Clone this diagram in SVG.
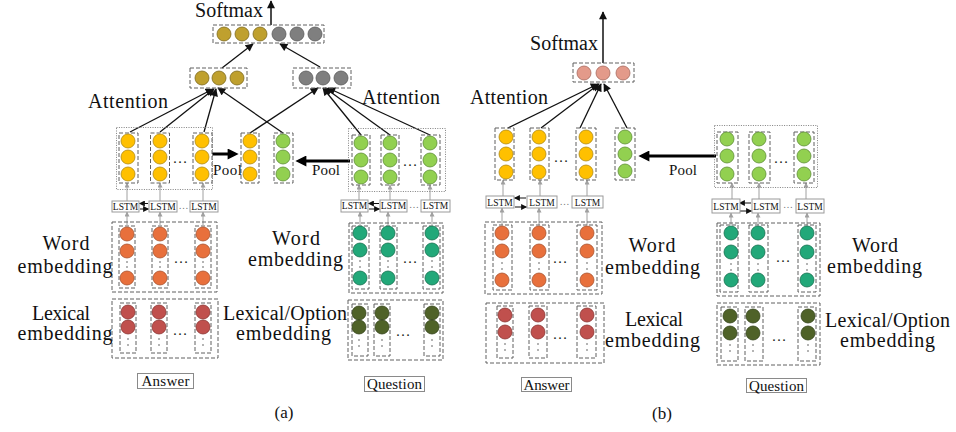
<svg xmlns="http://www.w3.org/2000/svg" width="956" height="432" viewBox="0 0 956 432">
  <defs>
    <style>
      text { font-family: "Liberation Serif", "DejaVu Serif", serif; fill: #111; }
      .lbl { font-size: 20px; text-anchor: middle; }
      .lbl-l { font-size: 20px; }
      .pool-t { font-size: 15px; }
      .tag { font-size: 15px; text-anchor: middle; }
      .cap { font-size: 17px; text-anchor: middle; }
      .lstm-t { font-size: 9.5px; text-anchor: middle; }
      .ell { font-size: 15px; text-anchor: middle; fill: #222; }
      .ell-s { font-size: 10px; text-anchor: middle; fill: #777; }
      .dash { fill: none; stroke: #606060; stroke-width: 1; stroke-dasharray: 4 2; }
      .dots { fill: none; stroke: #808080; stroke-width: 1; stroke-dasharray: 1 1.4; }
      .box { fill: #fff; stroke: #9a9a9a; stroke-width: 1; }
      .tagbox { fill: #fff; stroke: #8a8a8a; stroke-width: 1; }
      .yel { fill: #FFC000; stroke: #B08A14; stroke-width: 0.8; }
      .grn { fill: #92D050; stroke: #5E8E36; stroke-width: 0.8; }
      .org { fill: #E8703C; stroke: #A8532E; stroke-width: 0.8; }
      .teal { fill: #22A879; stroke: #17704F; stroke-width: 0.8; }
      .red { fill: #C0504D; stroke: #8A3532; stroke-width: 0.8; }
      .olv { fill: #4F6228; stroke: #34421A; stroke-width: 0.8; }
      .gold { fill: #BFA02E; stroke: #7E6A1E; stroke-width: 0.8; }
      .gry { fill: #7F7F7F; stroke: #5A5A5A; stroke-width: 0.8; }
      .pnk { fill: #E39A8A; stroke: #A86A5E; stroke-width: 0.8; }
      .vd { fill: #555; }
      .att { stroke: #111; stroke-width: 1.3; fill: none; marker-end: url(#ah); }
      .out { stroke: #111; stroke-width: 1.5; fill: none; marker-end: url(#ah); }
      .pool { stroke: #000; stroke-width: 3; fill: none; marker-end: url(#ahBig); }
      .feed { stroke: #a0a0a0; stroke-width: 1; fill: none; marker-end: url(#ahGray); }
      .bi { stroke: #111; stroke-width: 1; fill: none; marker-end: url(#ahSm); }
    </style>
    <marker id="ah" viewBox="0 0 10 10" refX="9" refY="5" markerWidth="9" markerHeight="8" markerUnits="userSpaceOnUse" orient="auto">
      <path d="M0,0 L10,5 L0,10 z" fill="#111"/>
    </marker>
    <marker id="ahBig" viewBox="0 0 10 10" refX="4" refY="5" markerWidth="14" markerHeight="11" markerUnits="userSpaceOnUse" orient="auto">
      <path d="M0,0 L10,5 L0,10 z" fill="#000"/>
    </marker>
    <marker id="ahGray" viewBox="0 0 10 10" refX="9" refY="5" markerWidth="5" markerHeight="5" markerUnits="userSpaceOnUse" orient="auto">
      <path d="M0,0 L10,5 L0,10 z" fill="#a0a0a0"/>
    </marker>
    <marker id="ahSm" viewBox="0 0 10 10" refX="9" refY="5" markerWidth="7" markerHeight="6" markerUnits="userSpaceOnUse" orient="auto">
      <path d="M0,0 L10,5 L0,10 z" fill="#111"/>
    </marker>
  </defs>

  <!-- ===================== connectors ===================== -->
  <g id="connectors">
    <!-- (a) output -->
    <line class="out" x1="271" y1="25" x2="271" y2="1"/>
    <line class="att" x1="222" y1="68" x2="253" y2="44"/>
    <line class="att" x1="320" y1="67" x2="280" y2="44"/>
    <!-- (a) attention over answer + pooled question -->
    <line class="att" x1="130" y1="132" x2="213" y2="89"/>
    <line class="att" x1="160" y1="132" x2="214" y2="89"/>
    <line class="att" x1="204" y1="132" x2="216" y2="89"/>
    <line class="att" x1="283" y1="133" x2="218" y2="88"/>
    <!-- (a) attention over question + pooled answer -->
    <line class="att" x1="250" y1="133" x2="318" y2="88"/>
    <line class="att" x1="361" y1="135" x2="323" y2="88"/>
    <line class="att" x1="390" y1="135" x2="325" y2="88"/>
    <line class="att" x1="430" y1="135" x2="328" y2="88"/>
    <!-- (a) pooling -->
    <line class="pool" x1="212" y1="154" x2="232" y2="154"/>
    <line class="pool" x1="350" y1="161" x2="302" y2="161"/>
    <!-- (a) answer feeds -->
    <line class="feed" x1="127" y1="225" x2="127" y2="212"/>
    <line class="feed" x1="160" y1="225" x2="160" y2="212"/>
    <line class="feed" x1="203" y1="225" x2="203" y2="212"/>
    <line class="feed" x1="127" y1="201" x2="127" y2="183"/>
    <line class="feed" x1="160" y1="201" x2="160" y2="183"/>
    <line class="feed" x1="203" y1="201" x2="203" y2="183"/>
    <line class="bi" x1="148" y1="203.5" x2="139.5" y2="203.5"/>
    <line class="bi" x1="140" y1="209" x2="148.5" y2="209"/>
    <!-- (a) question feeds -->
    <line class="feed" x1="360" y1="225" x2="360" y2="212"/>
    <line class="feed" x1="388" y1="225" x2="388" y2="212"/>
    <line class="feed" x1="432" y1="225" x2="432" y2="212"/>
    <line class="feed" x1="359" y1="200" x2="359" y2="185"/>
    <line class="feed" x1="390" y1="200" x2="390" y2="185"/>
    <line class="feed" x1="430" y1="200" x2="430" y2="185"/>
    <line class="bi" x1="379" y1="203.5" x2="368.5" y2="203.5"/>
    <line class="bi" x1="369" y1="209" x2="379.5" y2="209"/>

    <!-- (b) output -->
    <line class="out" x1="603" y1="63" x2="603" y2="12"/>
    <!-- (b) attention -->
    <line class="att" x1="508" y1="128" x2="598" y2="84"/>
    <line class="att" x1="541" y1="128" x2="599" y2="84"/>
    <line class="att" x1="580" y1="128" x2="601" y2="84"/>
    <line class="att" x1="627" y1="128" x2="604" y2="84"/>
    <!-- (b) pooling -->
    <line class="pool" x1="716" y1="156" x2="645" y2="156"/>
    <!-- (b) answer feeds -->
    <line class="feed" x1="502" y1="225" x2="502" y2="208"/>
    <line class="feed" x1="539" y1="225" x2="539" y2="208"/>
    <line class="feed" x1="587" y1="225" x2="587" y2="208"/>
    <line class="feed" x1="503" y1="196" x2="503" y2="180"/>
    <line class="feed" x1="540" y1="196" x2="540" y2="180"/>
    <line class="feed" x1="587" y1="196" x2="587" y2="180"/>
    <line class="bi" x1="526" y1="198" x2="514.5" y2="198"/>
    <line class="bi" x1="515" y1="207" x2="526.5" y2="207"/>
    <!-- (b) question feeds -->
    <line class="feed" x1="731" y1="225" x2="731" y2="213"/>
    <line class="feed" x1="758" y1="225" x2="758" y2="213"/>
    <line class="feed" x1="807" y1="225" x2="807" y2="213"/>
    <line class="feed" x1="732" y1="199" x2="732" y2="183"/>
    <line class="feed" x1="759" y1="199" x2="759" y2="183"/>
    <line class="feed" x1="806" y1="199" x2="806" y2="183"/>
    <line class="bi" x1="751" y1="203" x2="739.5" y2="203"/>
    <line class="bi" x1="740" y1="211" x2="751.5" y2="211"/>
  </g>

  <!-- ===================== panel (a) ===================== -->
  <g id="a-softmax-label"><text class="lbl-l" x="195" y="17" textLength="68">Softmax</text></g>

  <g id="a-output">
    <rect class="dash" x="213" y="25" width="111" height="18"/>
    <circle class="gold" cx="224" cy="34" r="7"/>
    <circle class="gold" cx="242" cy="34" r="7"/>
    <circle class="gold" cx="260" cy="34" r="7"/>
    <circle class="gry" cx="279" cy="34" r="7"/>
    <circle class="gry" cx="297" cy="34" r="7"/>
    <circle class="gry" cx="315" cy="34" r="7"/>
  </g>

  <g id="a-att-answer">
    <rect class="dash" x="190" y="68" width="57" height="20"/>
    <circle class="gold" cx="202" cy="78" r="7"/>
    <circle class="gold" cx="219" cy="78" r="7"/>
    <circle class="gold" cx="237" cy="78" r="7"/>
  </g>

  <g id="a-att-question">
    <rect class="dash" x="293" y="68" width="58" height="20"/>
    <circle class="gry" cx="306" cy="78" r="7"/>
    <circle class="gry" cx="323" cy="78" r="7"/>
    <circle class="gry" cx="341" cy="78" r="7"/>
  </g>

  <g id="a-attention-labels">
    <text class="lbl-l" x="88" y="108" textLength="80">Attention</text>
    <text class="lbl-l" x="362" y="104" textLength="78">Attention</text>
  </g>

  <g id="a-answer-hidden">
    <rect class="dots" x="116.5" y="127.5" width="96" height="62"/>
    <rect class="dash" x="119" y="133" width="19" height="50"/>
    <rect class="dash" x="150.5" y="133" width="19" height="50"/>
    <rect class="dash" x="193" y="133" width="19" height="50"/>
    <circle class="yel" cx="128" cy="141" r="7"/><circle class="yel" cx="128" cy="157" r="7"/><circle class="yel" cx="128" cy="174" r="7"/>
    <circle class="yel" cx="160" cy="141" r="7"/><circle class="yel" cx="160" cy="157" r="7"/><circle class="yel" cx="160" cy="174" r="7"/>
    <circle class="yel" cx="202" cy="141" r="7"/><circle class="yel" cx="202" cy="157" r="7"/><circle class="yel" cx="202" cy="174" r="7"/>
    <text class="ell" x="180" y="163">…</text>
  </g>

  <g id="a-pool-answer">
    <rect class="dash" x="241" y="133" width="18" height="50"/>
    <circle class="yel" cx="250" cy="141" r="7"/><circle class="yel" cx="250" cy="157" r="7"/><circle class="yel" cx="250" cy="174" r="7"/>
    <text class="pool-t" x="213" y="175" textLength="29">Pool</text>
  </g>

  <g id="a-pool-question">
    <rect class="dash" x="274" y="133" width="19" height="50"/>
    <circle class="grn" cx="283" cy="141" r="7"/><circle class="grn" cx="283" cy="157" r="7"/><circle class="grn" cx="283" cy="174" r="7"/>
    <text class="pool-t" x="312" y="175" textLength="28">Pool</text>
  </g>

  <g id="a-question-hidden">
    <rect class="dots" x="348.5" y="128.5" width="97" height="63"/>
    <rect class="dash" x="352" y="135" width="18" height="50"/>
    <rect class="dash" x="381" y="135" width="18" height="50"/>
    <rect class="dash" x="421" y="135" width="19" height="50"/>
    <circle class="grn" cx="361" cy="143" r="7"/><circle class="grn" cx="361" cy="160" r="7"/><circle class="grn" cx="361" cy="177" r="7"/>
    <circle class="grn" cx="390" cy="143" r="7"/><circle class="grn" cx="390" cy="160" r="7"/><circle class="grn" cx="390" cy="177" r="7"/>
    <circle class="grn" cx="430" cy="143" r="7"/><circle class="grn" cx="430" cy="160" r="7"/><circle class="grn" cx="430" cy="177" r="7"/>
    <text class="ell" x="410" y="166">…</text>
  </g>

  <g id="a-answer-lstm">
    <rect class="box" x="112" y="201" width="27" height="11"/><text class="lstm-t" x="125.5" y="209.5">LSTM</text>
    <rect class="box" x="149" y="201" width="28" height="11"/><text class="lstm-t" x="163" y="209.5">LSTM</text>
    <rect class="box" x="190" y="201" width="28" height="11"/><text class="lstm-t" x="204" y="209.5">LSTM</text>
    <text class="ell-s" x="183.5" y="208.5">…</text>
  </g>

  <g id="a-question-lstm">
    <rect class="box" x="341" y="200" width="27" height="12"/><text class="lstm-t" x="354.5" y="209">LSTM</text>
    <rect class="box" x="380" y="200" width="27" height="12"/><text class="lstm-t" x="393.5" y="209">LSTM</text>
    <rect class="box" x="421" y="200" width="29" height="12"/><text class="lstm-t" x="435.5" y="209">LSTM</text>
    <text class="ell-s" x="414" y="208">…</text>
  </g>

  <g id="a-answer-word">
    <rect class="dash" x="112" y="222" width="105" height="70"/>
    <rect class="dash" x="119" y="226" width="16" height="62"/>
    <rect class="dash" x="152" y="226" width="16" height="62"/>
    <rect class="dash" x="195" y="226" width="16" height="62"/>
    <circle class="org" cx="127" cy="234" r="7"/><circle class="org" cx="127" cy="251" r="7"/><circle class="org" cx="127" cy="278" r="7"/>
    <circle class="org" cx="160" cy="234" r="7"/><circle class="org" cx="160" cy="251" r="7"/><circle class="org" cx="160" cy="278" r="7"/>
    <circle class="org" cx="203" cy="234" r="7"/><circle class="org" cx="203" cy="251" r="7"/><circle class="org" cx="203" cy="278" r="7"/>
    <circle class="vd" cx="127" cy="262" r="0.8"/><circle class="vd" cx="127" cy="267" r="0.8"/>
    <circle class="vd" cx="160" cy="262" r="0.8"/><circle class="vd" cx="160" cy="267" r="0.8"/>
    <circle class="vd" cx="203" cy="262" r="0.8"/><circle class="vd" cx="203" cy="267" r="0.8"/>
    <text class="ell" x="181" y="263">…</text>
    <text class="lbl" x="66" y="250" textLength="47">Word</text>
    <text class="lbl" x="65" y="273" textLength="95">embedding</text>
  </g>

  <g id="a-answer-lexical">
    <rect class="dash" x="112" y="299" width="106" height="59"/>
    <rect class="dash" x="120" y="303" width="16" height="50"/>
    <rect class="dash" x="151" y="303" width="16" height="50"/>
    <rect class="dash" x="195" y="303" width="16" height="50"/>
    <circle class="red" cx="128" cy="312" r="7"/><circle class="red" cx="128" cy="327" r="7"/>
    <circle class="red" cx="159" cy="312" r="7"/><circle class="red" cx="159" cy="327" r="7"/>
    <circle class="red" cx="203" cy="312" r="7"/><circle class="red" cx="203" cy="327" r="7"/>
    <circle class="vd" cx="128" cy="339" r="0.8"/><circle class="vd" cx="128" cy="345" r="0.8"/>
    <circle class="vd" cx="159" cy="339" r="0.8"/><circle class="vd" cx="159" cy="345" r="0.8"/>
    <circle class="vd" cx="203" cy="339" r="0.8"/><circle class="vd" cx="203" cy="345" r="0.8"/>
    <text class="ell" x="180" y="335">…</text>
    <text class="lbl" x="61" y="320" textLength="58">Lexical</text>
    <text class="lbl" x="65" y="340" textLength="95">embedding</text>
  </g>

  <g id="a-answer-tag">
    <rect class="tagbox" x="137.5" y="373.5" width="56" height="15"/>
    <text class="tag" x="165.5" y="386" textLength="48">Answer</text>
  </g>

  <g id="a-question-word">
    <rect class="dash" x="349" y="223" width="94" height="70"/>
    <rect class="dash" x="352" y="226" width="17" height="63"/>
    <rect class="dash" x="380" y="226" width="17" height="63"/>
    <rect class="dash" x="423" y="226" width="17" height="63"/>
    <circle class="teal" cx="360" cy="233" r="7"/><circle class="teal" cx="360" cy="250" r="7"/><circle class="teal" cx="360" cy="278" r="7"/>
    <circle class="teal" cx="388" cy="233" r="7"/><circle class="teal" cx="388" cy="250" r="7"/><circle class="teal" cx="388" cy="278" r="7"/>
    <circle class="teal" cx="432" cy="233" r="7"/><circle class="teal" cx="432" cy="250" r="7"/><circle class="teal" cx="432" cy="278" r="7"/>
    <circle class="vd" cx="360" cy="261" r="0.8"/><circle class="vd" cx="360" cy="267" r="0.8"/>
    <circle class="vd" cx="388" cy="261" r="0.8"/><circle class="vd" cx="388" cy="267" r="0.8"/>
    <circle class="vd" cx="432" cy="261" r="0.8"/><circle class="vd" cx="432" cy="267" r="0.8"/>
    <text class="ell" x="410" y="263">…</text>
    <text class="lbl" x="296" y="245" textLength="48">Word</text>
    <text class="lbl" x="295.5" y="266" textLength="95">embedding</text>
  </g>

  <g id="a-question-lexical">
    <rect class="dash" x="348" y="300" width="95" height="60"/>
    <rect class="dash" x="352" y="304" width="16" height="52"/>
    <rect class="dash" x="374" y="304" width="16" height="52"/>
    <rect class="dash" x="424" y="304" width="16" height="52"/>
    <circle class="olv" cx="359" cy="313" r="7"/><circle class="olv" cx="359" cy="327" r="7"/>
    <circle class="olv" cx="382" cy="313" r="7"/><circle class="olv" cx="382" cy="327" r="7"/>
    <circle class="olv" cx="432" cy="313" r="7"/><circle class="olv" cx="432" cy="327" r="7"/>
    <circle class="vd" cx="359" cy="340" r="0.8"/><circle class="vd" cx="359" cy="346" r="0.8"/>
    <circle class="vd" cx="382" cy="340" r="0.8"/><circle class="vd" cx="382" cy="346" r="0.8"/>
    <circle class="vd" cx="432" cy="340" r="0.8"/><circle class="vd" cx="432" cy="346" r="0.8"/>
    <text class="ell" x="403" y="336">…</text>
    <text class="lbl" x="285" y="320" textLength="124">Lexical/Option</text>
    <text class="lbl" x="283.5" y="340" textLength="95">embedding</text>
  </g>

  <g id="a-question-tag">
    <rect class="tagbox" x="364.5" y="376.5" width="60" height="15"/>
    <text class="tag" x="394.5" y="389" textLength="55">Question</text>
  </g>

  <g id="a-caption"><text class="cap" x="284" y="418">(a)</text></g>

  <!-- ===================== panel (b) ===================== -->
  <g id="b-softmax-label"><text class="lbl-l" x="530" y="50" textLength="68">Softmax</text></g>

  <g id="b-output">
    <rect class="dash" x="573" y="63" width="61" height="19"/>
    <circle class="pnk" cx="584" cy="73" r="7"/>
    <circle class="pnk" cx="603" cy="73" r="7"/>
    <circle class="pnk" cx="623" cy="73" r="7"/>
  </g>

  <g id="b-attention-label"><text class="lbl-l" x="470" y="104" textLength="78">Attention</text></g>

  <g id="b-answer-hidden">
    <rect class="dash" x="495" y="128" width="19" height="52"/>
    <rect class="dash" x="530" y="128" width="19" height="52"/>
    <rect class="dash" x="576" y="128" width="20" height="52"/>
    <circle class="yel" cx="506" cy="137" r="7"/><circle class="yel" cx="506" cy="154" r="7"/><circle class="yel" cx="506" cy="172" r="7"/>
    <circle class="yel" cx="539" cy="137" r="7"/><circle class="yel" cx="539" cy="154" r="7"/><circle class="yel" cx="539" cy="172" r="7"/>
    <circle class="yel" cx="586" cy="137" r="7"/><circle class="yel" cx="586" cy="154" r="7"/><circle class="yel" cx="586" cy="172" r="7"/>
    <text class="ell" x="561" y="162">…</text>
  </g>

  <g id="b-pool-question">
    <rect class="dash" x="615" y="128" width="20" height="52"/>
    <circle class="grn" cx="625" cy="137" r="7"/><circle class="grn" cx="625" cy="154" r="7"/><circle class="grn" cx="625" cy="171" r="7"/>
    <text class="pool-t" x="669" y="175" textLength="28">Pool</text>
  </g>

  <g id="b-question-hidden">
    <rect class="dots" x="714.5" y="125.5" width="103" height="62"/>
    <rect class="dash" x="717" y="132" width="21" height="51"/>
    <rect class="dash" x="749" y="132" width="21" height="51"/>
    <rect class="dash" x="794" y="132" width="20" height="51"/>
    <circle class="grn" cx="727" cy="139" r="7"/><circle class="grn" cx="727" cy="156" r="7"/><circle class="grn" cx="727" cy="174" r="7"/>
    <circle class="grn" cx="759" cy="139" r="7"/><circle class="grn" cx="759" cy="156" r="7"/><circle class="grn" cx="759" cy="174" r="7"/>
    <circle class="grn" cx="804" cy="139" r="7"/><circle class="grn" cx="804" cy="156" r="7"/><circle class="grn" cx="804" cy="174" r="7"/>
    <text class="ell" x="781" y="163">…</text>
  </g>

  <g id="b-answer-lstm">
    <rect class="box" x="486" y="196" width="28" height="12"/><text class="lstm-t" x="500" y="205.5">LSTM</text>
    <rect class="box" x="527" y="196" width="30" height="12"/><text class="lstm-t" x="542" y="205.5">LSTM</text>
    <rect class="box" x="572" y="196" width="31" height="12"/><text class="lstm-t" x="587.5" y="205.5">LSTM</text>
    <text class="ell-s" x="564.5" y="205">…</text>
  </g>

  <g id="b-question-lstm">
    <rect class="box" x="712" y="199" width="28" height="14"/><text class="lstm-t" x="726" y="209.5">LSTM</text>
    <rect class="box" x="752" y="199" width="28" height="14"/><text class="lstm-t" x="766" y="209.5">LSTM</text>
    <rect class="box" x="796" y="199" width="28" height="14"/><text class="lstm-t" x="810" y="209.5">LSTM</text>
    <text class="ell-s" x="788" y="208">…</text>
  </g>

  <g id="b-answer-word">
    <rect class="dash" x="485" y="222" width="117" height="72"/>
    <rect class="dash" x="493" y="225" width="19" height="65"/>
    <rect class="dash" x="530" y="225" width="19" height="65"/>
    <rect class="dash" x="577" y="225" width="20" height="65"/>
    <circle class="org" cx="502" cy="233" r="7"/><circle class="org" cx="502" cy="251" r="7"/><circle class="org" cx="502" cy="280" r="7"/>
    <circle class="org" cx="539" cy="233" r="7"/><circle class="org" cx="539" cy="251" r="7"/><circle class="org" cx="539" cy="280" r="7"/>
    <circle class="org" cx="587" cy="233" r="7"/><circle class="org" cx="587" cy="251" r="7"/><circle class="org" cx="587" cy="280" r="7"/>
    <circle class="vd" cx="502" cy="263" r="0.8"/><circle class="vd" cx="502" cy="269" r="0.8"/>
    <circle class="vd" cx="539" cy="263" r="0.8"/><circle class="vd" cx="539" cy="269" r="0.8"/>
    <circle class="vd" cx="587" cy="263" r="0.8"/><circle class="vd" cx="587" cy="269" r="0.8"/>
    <text class="ell" x="560" y="263">…</text>
    <text class="lbl" x="652" y="252" textLength="47">Word</text>
    <text class="lbl" x="652.5" y="274" textLength="95">embedding</text>
  </g>

  <g id="b-answer-lexical">
    <rect class="dash" x="486" y="303" width="118" height="60"/>
    <rect class="dash" x="497" y="306" width="16" height="52"/>
    <rect class="dash" x="529" y="306" width="18" height="52"/>
    <rect class="dash" x="577" y="306" width="19" height="52"/>
    <circle class="red" cx="505" cy="315" r="7"/><circle class="red" cx="505" cy="332" r="7"/>
    <circle class="red" cx="538" cy="315" r="7"/><circle class="red" cx="538" cy="332" r="7"/>
    <circle class="red" cx="587" cy="315" r="7"/><circle class="red" cx="587" cy="332" r="7"/>
    <circle class="vd" cx="505" cy="344" r="0.8"/><circle class="vd" cx="505" cy="350" r="0.8"/>
    <circle class="vd" cx="538" cy="344" r="0.8"/><circle class="vd" cx="538" cy="350" r="0.8"/>
    <circle class="vd" cx="587" cy="344" r="0.8"/><circle class="vd" cx="587" cy="350" r="0.8"/>
    <text class="ell" x="560" y="339">…</text>
    <text class="lbl" x="654" y="326" textLength="58">Lexical</text>
    <text class="lbl" x="652.5" y="347" textLength="95">embedding</text>
  </g>

  <g id="b-answer-tag">
    <rect class="tagbox" x="521.5" y="377.5" width="50" height="14"/>
    <text class="tag" x="546.5" y="389.5" textLength="46">Answer</text>
  </g>

  <g id="b-question-word">
    <rect class="dash" x="717" y="223" width="103" height="73"/>
    <rect class="dash" x="720" y="225" width="18" height="67"/>
    <rect class="dash" x="749" y="225" width="19" height="67"/>
    <rect class="dash" x="798" y="225" width="18" height="67"/>
    <circle class="teal" cx="731" cy="233" r="7"/><circle class="teal" cx="731" cy="252" r="7"/><circle class="teal" cx="731" cy="280" r="7"/>
    <circle class="teal" cx="758" cy="233" r="7"/><circle class="teal" cx="758" cy="252" r="7"/><circle class="teal" cx="758" cy="280" r="7"/>
    <circle class="teal" cx="807" cy="233" r="7"/><circle class="teal" cx="807" cy="252" r="7"/><circle class="teal" cx="807" cy="280" r="7"/>
    <circle class="vd" cx="731" cy="264" r="0.8"/><circle class="vd" cx="731" cy="270" r="0.8"/>
    <circle class="vd" cx="758" cy="264" r="0.8"/><circle class="vd" cx="758" cy="270" r="0.8"/>
    <circle class="vd" cx="807" cy="264" r="0.8"/><circle class="vd" cx="807" cy="270" r="0.8"/>
    <text class="ell" x="783" y="262">…</text>
    <text class="lbl" x="875" y="252" textLength="46">Word</text>
    <text class="lbl" x="874.5" y="273" textLength="95">embedding</text>
  </g>

  <g id="b-question-lexical">
    <rect class="dash" x="717" y="303" width="103" height="62"/>
    <rect class="dash" x="721" y="307" width="17" height="54"/>
    <rect class="dash" x="745" y="307" width="18" height="54"/>
    <rect class="dash" x="798" y="307" width="18" height="54"/>
    <circle class="olv" cx="730" cy="316" r="7"/><circle class="olv" cx="730" cy="333" r="7"/>
    <circle class="olv" cx="753" cy="316" r="7"/><circle class="olv" cx="753" cy="333" r="7"/>
    <circle class="olv" cx="808" cy="316" r="7"/><circle class="olv" cx="808" cy="333" r="7"/>
    <circle class="vd" cx="730" cy="345" r="0.8"/><circle class="vd" cx="730" cy="351" r="0.8"/>
    <circle class="vd" cx="753" cy="345" r="0.8"/><circle class="vd" cx="753" cy="351" r="0.8"/>
    <circle class="vd" cx="808" cy="345" r="0.8"/><circle class="vd" cx="808" cy="351" r="0.8"/>
    <text class="ell" x="779" y="341">…</text>
    <text class="lbl" x="887.5" y="327" textLength="125">Lexical/Option</text>
    <text class="lbl" x="887.5" y="347" textLength="95">embedding</text>
  </g>

  <g id="b-question-tag">
    <rect class="tagbox" x="746.5" y="378.5" width="60" height="14"/>
    <text class="tag" x="776.5" y="390.5" textLength="55">Question</text>
  </g>

  <g id="b-caption"><text class="cap" x="662" y="419">(b)</text></g>
</svg>
